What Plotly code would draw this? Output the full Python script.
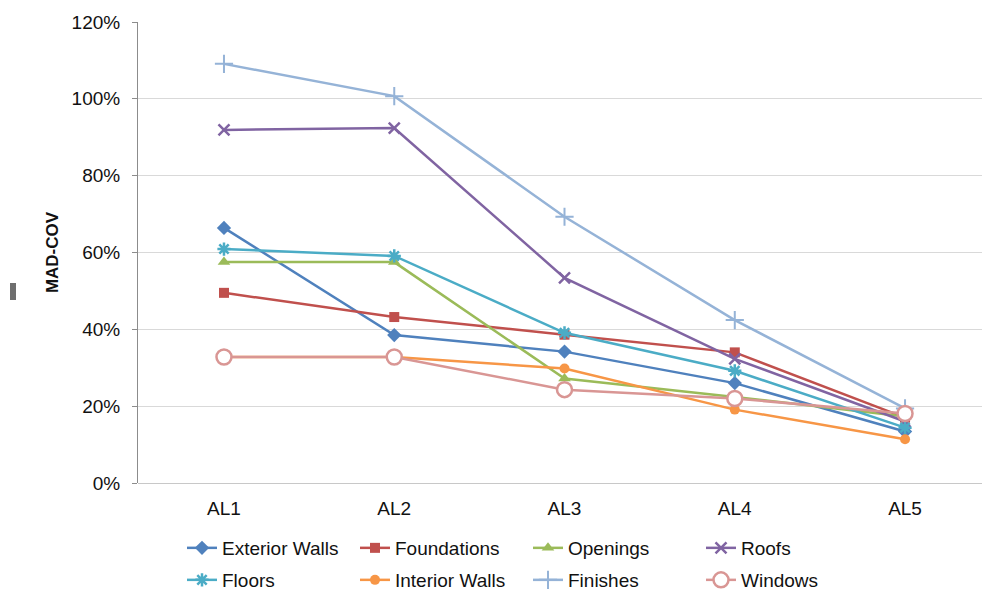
import plotly.graph_objects as go

# Assessment levels along the x axis
levels = ["AL1", "AL2", "AL3", "AL4", "AL5"]

# MAD-COV per building component (percent)
exterior_walls = [66.4, 38.5, 34.2, 26.0, 13.4]
foundations = [49.5, 43.2, 38.6, 34.0, 17.0]
openings = [57.5, 57.5, 27.2, 22.4, 17.3]
roofs = [91.9, 92.4, 53.4, 32.3, 16.0]
floors = [60.9, 59.1, 39.1, 29.2, 14.4]
interior_walls = [32.8, 32.8, 29.8, 19.1, 11.4]
finishes = [109.1, 100.7, 69.3, 42.4, 19.4]
windows = [32.8, 32.8, 24.3, 22.0, 18.1]

y_ticks = [0, 20, 40, 60, 80, 100, 120]
y_tick_text = [f"{v}%" for v in y_ticks]

W, H = 982, 592
FONT = "Liberation Sans, Arial, sans-serif"

series = [
    ("Exterior Walls", exterior_walls, "#4F81BD", dict(symbol="diamond", size=11), "legend"),
    ("Foundations", foundations, "#C0504D", dict(symbol="square", size=10), "legend"),
    ("Openings", openings, "#9BBB59", dict(symbol="triangle-up", size=11), "legend"),
    ("Roofs", roofs, "#8064A2", dict(symbol="x-thin-open", size=11, line=dict(width=2.5)), "legend"),
    ("Floors", floors, "#4BACC6", dict(symbol="asterisk-open", size=11, line=dict(width=2.5)), "legend2"),
    ("Interior Walls", interior_walls, "#F79646", dict(symbol="circle", size=10), "legend2"),
    ("Finishes", finishes, "#95B3D7", dict(symbol="cross-thin-open", size=13, line=dict(width=2)), "legend2"),
    ("Windows", windows, "#D99694",
     dict(symbol="circle", size=15, color="white", line=dict(width=2.5, color="#D99694")), "legend2"),
]

fig = go.Figure()
for name, vals, color, marker, leg in series:
    mk = dict(color=color)
    mk.update(marker)
    if "line" in mk and "color" not in mk["line"]:
        mk["line"] = dict(mk["line"], color=color)
    fig.add_trace(go.Scatter(
        x=levels, y=vals, name=name, mode="lines+markers",
        line=dict(color=color, width=2.5), marker=mk, legend=leg,
    ))

legend_common = dict(
    orientation="h", xref="container", yref="container",
    xanchor="left", yanchor="middle",
    font=dict(family=FONT, size=19, color="#111111"),
    entrywidth=128, entrywidthmode="pixels",
    bgcolor="rgba(0,0,0,0)", itemsizing="trace",
)

fig.update_layout(
    width=W, height=H,
    margin=dict(l=138, r=0, t=22, b=109),
    paper_bgcolor="white", plot_bgcolor="white",
    font=dict(family=FONT, size=18, color="#111111"),
    legend=dict(legend_common, x=182 / W, y=1 - 548 / H),
    legend2=dict(legend_common, x=182 / W, y=1 - 580 / H),
    xaxis=dict(
        type="category", range=[-0.505, 4.452],
        showgrid=False, showline=False, zeroline=False,
        ticks="", tickfont=dict(size=19), ticklabelstandoff=12,
    ),
    yaxis=dict(
        range=[0, 120], tickvals=y_ticks, ticktext=y_tick_text,
        showgrid=True, gridcolor="#D9D9D9", gridwidth=1,
        showline=True, linecolor="#8C8C8C", linewidth=1,
        ticks="outside", ticklen=5, tickcolor="#8C8C8C",
        tickfont=dict(size=19), ticklabelstandoff=8,
        zeroline=True, zerolinecolor="#C8C8C8", zerolinewidth=1,
        title=dict(text="<b>MAD-COV</b>", font=dict(size=17), standoff=8),
    ),
    showlegend=True,
)

# small gray tab on the left edge
fig.add_shape(type="rect", xref="paper", yref="paper",
              x0=(10 - 138) / (W - 138), x1=(16 - 138) / (W - 138),
              y0=(483 - 300) / 461, y1=(483 - 283) / 461,
              fillcolor="#6E6E6E", line=dict(width=0))

fig.write_html("out.html")
